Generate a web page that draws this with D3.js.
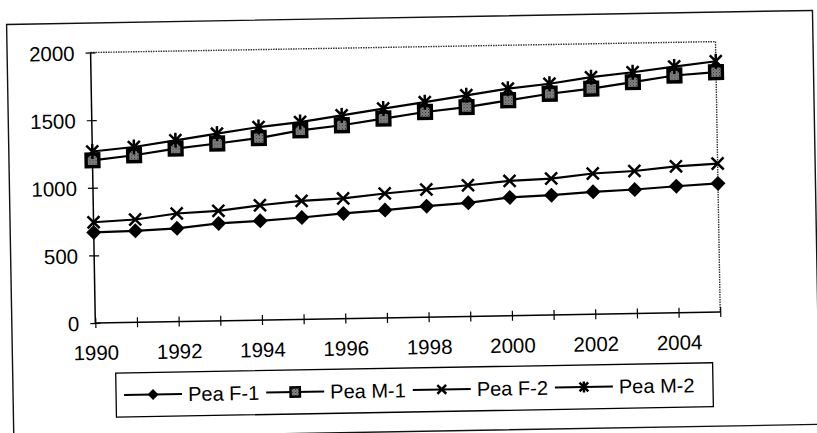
<!DOCTYPE html>
<html>
<head>
<meta charset="utf-8">
<script src="https://cdn.jsdelivr.net/npm/d3@7/dist/d3.min.js"></script>
<style>
  html, body { margin: 0; padding: 0; background: #fff; }
  svg { display: block; }
  text { font-family: "Liberation Sans", Arial, sans-serif; fill: #000; }
</style>
</head>
<body>
<svg id="chart" width="817" height="433"></svg>
<script>
// ---- data ----
const years = [1990,1991,1992,1993,1994,1995,1996,1997,1998,1999,2000,2001,2002,2003,2004,2005];
const peaF1 = [670,676,689,720,734,753,778,797,821,840,875,886,905,917,936,951];
const peaM1 = [1203,1235,1279,1311,1346,1398,1430,1474,1517,1548,1593,1636,1668,1711,1755,1774];
const peaF2 = [745,760,799,813,849,876,889,920,944,970,997,1009,1041,1054,1083,1098];
const peaM2 = [1268,1296,1340,1384,1427,1459,1503,1548,1590,1635,1679,1710,1753,1784,1821,1855];
const seriesNames = ["Pea F-1","Pea M-1","Pea F-2","Pea M-2"];
const seriesMarkers = ["diamond","square","cross","star"];
const yTicks = [0,500,1000,1500,2000];
const xTickLabels = [1990,1992,1994,1996,1998,2000,2002,2004];

const seriesValues = [peaF1, peaM1, peaF2, peaM2];
const series = seriesNames.map((n,i) => ({name:n, marker:seriesMarkers[i],
  values: years.map((yr,j) => ({year:yr, value:seriesValues[i][j]}))}));

// ---- layout ----
const W = 817, H = 433;
const plot = {left: 93.5, right: 718.5, top: 47, bottom: 317.5};

const svg = d3.select("#chart");
const defs = svg.append("defs");
const pat = defs.append("pattern").attr("id","speckle").attr("patternUnits","userSpaceOnUse")
  .attr("width",3).attr("height",3);
pat.append("rect").attr("width",3).attr("height",3).attr("fill","#8a8a8a");
pat.append("rect").attr("width",1).attr("height",1).attr("fill","#222");
pat.append("rect").attr("x",1.5).attr("y",1.5).attr("width",1).attr("height",1).attr("fill","#333");

svg.append("rect").attr("width",W).attr("height",H).attr("fill","#fff");

// whole scan is slightly tilted
const root = svg.append("g").attr("transform", `rotate(-1, ${W/2}, ${H/2})`);

// outer chart frame
root.append("rect").attr("x",10).attr("y",17.5).attr("width",806).attr("height",414)
  .attr("fill","none").attr("stroke","#111").attr("stroke-width",1.4);

const x = d3.scaleLinear().domain([years[0], years[years.length-1]]).range([plot.left, plot.right]);
const y = d3.scaleLinear().domain([0, 2000]).range([plot.bottom, plot.top]);

// plot area border (top & right, dotted gray)
root.append("path")
  .attr("d", `M${plot.left},${plot.top}H${plot.right}V${plot.bottom}`)
  .attr("fill","none").attr("stroke","#333").attr("stroke-width",1.4)
  .attr("stroke-dasharray","1.5,1");

// y axis
const yAxis = root.append("g").attr("transform",`translate(${plot.left},0)`)
  .call(d3.axisLeft(y).tickValues(yTicks).tickSize(5).tickPadding(12).tickFormat(d3.format("d")));
yAxis.select(".domain").attr("stroke","#000").attr("stroke-width",1.5).attr("d",`M0,${plot.top}V${plot.bottom}`);
yAxis.selectAll(".tick line").attr("x1",-5).attr("x2",5).attr("stroke","#000").attr("stroke-width",1.2);
yAxis.selectAll(".tick text").attr("font-size",20.5).attr("x",-16).attr("dy","0.36em")
  .style("font-family","'Liberation Sans', Arial, sans-serif");

// x axis
const xAxis = root.append("g").attr("transform",`translate(0,${plot.bottom})`)
  .call(d3.axisBottom(x).tickValues(years).tickSize(5)
    .tickFormat(d => xTickLabels.includes(d) ? String(d) : ""));
xAxis.select(".domain").attr("stroke","#000").attr("stroke-width",1.5).attr("d",`M${plot.left},0H${plot.right}`);
xAxis.selectAll(".tick line").attr("y1",-5).attr("y2",5).attr("stroke","#000").attr("stroke-width",1.2);
xAxis.selectAll(".tick text").attr("font-size",20.5).attr("y",37).attr("dy",0)
  .style("font-family","'Liberation Sans', Arial, sans-serif");

// marker drawing
function drawMarker(g, type, s) {
  if (type === "diamond") {
    g.append("path").attr("d",`M0,${-s}L${s},0L0,${s}L${-s},0Z`).attr("fill","#000");
  } else if (type === "square") {
    const h = s*0.85;
    g.append("rect").attr("x",-h).attr("y",-h).attr("width",2*h).attr("height",2*h)
      .attr("fill","url(#speckle)").attr("stroke","#000").attr("stroke-width",s*0.45);
  } else if (type === "cross") {
    const h = s*0.8;
    g.append("path").attr("d",`M${-h},${-h}L${h},${h}M${-h},${h}L${h},${-h}`)
      .attr("stroke","#000").attr("stroke-width",2.5).attr("fill","none");
  } else if (type === "star") {
    const h = s*0.8;
    g.append("path").attr("d",`M${-h},${-h}L${h},${h}M${-h},${h}L${h},${-h}M0,${-s}V${s}`)
      .attr("stroke","#000").attr("stroke-width",2.5).attr("fill","none");
  }
}

const line = d3.line().x(d => x(d.year)).y(d => y(d.value));

series.forEach(s => {
  const g = root.append("g");
  g.append("path").datum(s.values).attr("d", line)
    .attr("fill","none").attr("stroke","#000").attr("stroke-width",2.2);
  g.selectAll("g.m").data(s.values).enter().append("g").attr("class","m")
    .attr("transform", d => `translate(${x(d.year)},${y(d.value)})`)
    .each(function(){ drawMarker(d3.select(this), s.marker, 7.5); });
});

// legend
const legend = {left: 113, top: 368, right: 710, bottom: 412};
root.append("rect").attr("x",legend.left).attr("y",legend.top)
  .attr("width",legend.right-legend.left).attr("height",legend.bottom-legend.top)
  .attr("fill","#fff").attr("stroke","#000").attr("stroke-width",1.3);
const ly = (legend.top + legend.bottom)/2;
let cx = legend.left + 8;
series.forEach(s => {
  const g = root.append("g");
  g.append("line").attr("x1",cx).attr("x2",cx+58).attr("y1",ly).attr("y2",ly)
    .attr("stroke","#000").attr("stroke-width",2);
  const mg = g.append("g").attr("transform",`translate(${cx+29},${ly})`);
  drawMarker(mg, s.marker, 5.5);
  const t = g.append("text").attr("x",cx+64).attr("y",ly).attr("dy","0.36em")
    .attr("font-size",20).text(s.name);
  cx = cx + 64 + t.node().getComputedTextLength() + 7;
});
</script>
</body>
</html>
